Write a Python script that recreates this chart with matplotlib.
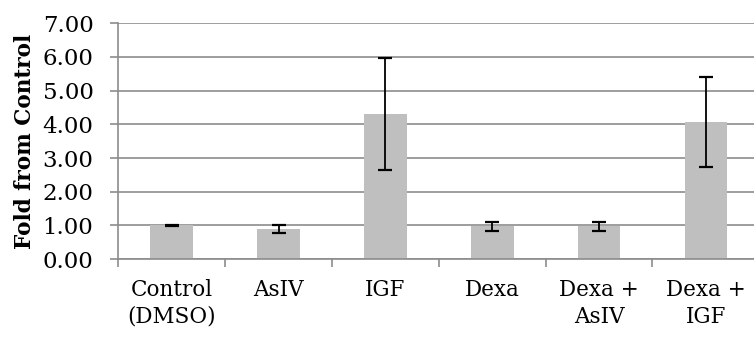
import numpy as np
import matplotlib.pyplot as plt

# Data
categories = ['Control\n(DMSO)', 'AsIV', 'IGF', 'Dexa', 'Dexa +\nAsIV', 'Dexa +\nIGF']
fold = [1.00, 0.90, 4.31, 0.97, 0.97, 4.07]
err = [0.01, 0.11, 1.66, 0.14, 0.14, 1.33]
yticks = [0, 1, 2, 3, 4, 5, 6, 7]

plt.rcParams['font.family'] = ['DejaVu Serif']

fig = plt.figure(figsize=(7.54, 3.37), dpi=100)
ax = fig.add_axes([0.157, 0.231, 0.85, 0.70])

x = np.arange(len(categories))
ax.bar(x, fold, width=0.4, color='#BFBFBF', zorder=2)
ax.errorbar(x, fold, yerr=err, fmt='none', ecolor='black', elinewidth=1.3,
            capsize=5, capthick=1.6, zorder=3)

ax.set_ylim(0, 7)
ax.set_xlim(-0.5, len(categories) - 0.5)
ax.set_yticks(yticks)
ax.set_yticklabels(['%.2f' % v for v in yticks], fontsize=16.5)
ax.yaxis.grid(True, color='#8C8C8C', linewidth=1.2, zorder=0)
ax.set_axisbelow(True)

# category boundary ticks on the x axis
ax.set_xticks(np.arange(-0.5, len(categories) - 0.5 + 0.01, 1))
ax.set_xticklabels([])
ax.set_xticks(x, minor=True)
ax.set_xticklabels(categories, minor=True, fontsize=15.5, linespacing=1.3)
ax.tick_params(axis='x', which='minor', length=0, pad=14)
ax.tick_params(axis='x', which='major', length=6, color='#8C8C8C', width=1.2)
ax.tick_params(axis='y', length=6, color='#8C8C8C', width=1.2, pad=12)

for s in ['top', 'right']:
    ax.spines[s].set_visible(False)
ax.spines['left'].set_color('#8C8C8C')
ax.spines['left'].set_linewidth(1.2)
ax.spines['bottom'].set_color('#8C8C8C')
ax.spines['bottom'].set_linewidth(1.2)

ax.set_ylabel('Fold from Control', fontsize=15.5, fontweight='bold', labelpad=5)

fig.savefig('out.png', dpi=100)
